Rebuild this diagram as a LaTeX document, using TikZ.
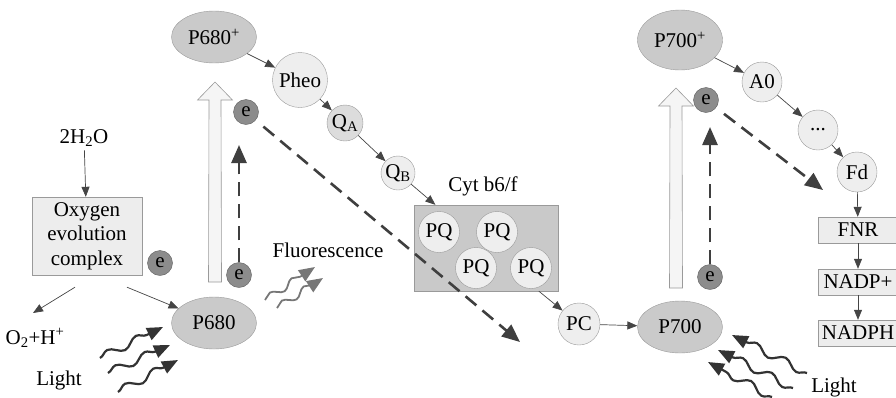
\documentclass[tikz,border=0pt]{standalone}
\usepackage{fontspec}
\setmainfont{Liberation Serif}
\usetikzlibrary{arrows.meta,shapes.geometric,decorations.pathmorphing}

\definecolor{bordgray}{HTML}{9A9A9A}
\definecolor{ellgray}{HTML}{CACACA}
\definecolor{ballgray}{HTML}{EEEEEE}
\definecolor{qgray}{HTML}{DCDCDC}
\definecolor{boxgray}{HTML}{EDEDED}
\definecolor{cytgray}{HTML}{C9C9C9}
\definecolor{egray}{HTML}{8C8C8C}
\definecolor{edark}{HTML}{5E5E5E}
\definecolor{arrgray}{HTML}{454545}
\definecolor{dashgray}{HTML}{3F3F3F}
\definecolor{wavegray}{HTML}{333333}
\definecolor{fluogray}{HTML}{777777}
\definecolor{arrowwhite}{HTML}{F5F5F5}

\tikzset{
  every node/.style={font=\fontsize{21}{24.5}\selectfont},
  ell/.style={ellipse, draw=bordgray, fill=ellgray, minimum width=85pt, minimum height=52pt, inner sep=0pt},
  ball/.style={circle, draw=bordgray, fill=ballgray, inner sep=0pt},
  elec/.style={circle, draw=edark, fill=egray, minimum size=25pt, inner sep=0pt},
  plainbox/.style={rectangle, draw=bordgray, fill=boxgray, inner sep=2pt},
  thinarr/.style={draw=arrgray, line width=0.7pt, -{Triangle[length=10pt,width=8pt]}},
  dasharr/.style={draw=dashgray, line width=2.6pt, dash pattern=on 14pt off 8pt, -{Triangle[length=18pt,width=15pt]}},
  wave/.style={draw=wavegray, line width=2.2pt, -{Triangle[length=16pt,width=13pt]},
    decorate, decoration={snake, amplitude=4pt, segment length=32pt, post length=14pt}},
  fluo/.style={wave, draw=fluogray, line width=1.8pt,
    decoration={snake, amplitude=3.5pt, segment length=26pt, post length=12pt}},
  bigarr/.pic={
    \filldraw[draw=bordgray, fill=arrowwhite, line width=0.6pt]
      (-6.5,0) -- (-6,-182) -- (-17.5,-182) -- (0,-200) -- (17.5,-182) -- (6,-182) -- (6.5,0) -- cycle;
  }
}

\begin{document}
\begin{tikzpicture}[x=1pt,y=-1pt]
  \useasboundingbox (0,0) rectangle (896,397);

  % photosystem II
  \node (h2o) at (84,138) {2H\textsubscript{2}O};
  \node[plainbox, minimum width=110pt, minimum height=78pt, align=center] (oec) at (87,236) {Oxygen\\evolution\\complex};
  \node (o2h) at (35,338) {O\textsubscript{2}+H\textsuperscript{+}};
  \node (lightL) at (59,380) {Light};
  \node[elec] (eOEC) at (160,263) {e};

  \pic at (215,282) {bigarr};
  \node[ell] (p680) at (214,323) {P680};
  \node[ell] (p680p) at (214,37) {P680\textsuperscript{+}};
  \node[elec] (eA) at (239,275) {e};
  \node[elec] (eB) at (246,112) {e};
  \coordinate (tipA) at (239,145);
  \coordinate (tipB) at (520,342);
  \node (fluor) at (328,250) {Fluorescence};

  % chain to cytochrome
  \node[ball, minimum size=55pt] (pheo) at (300,80) {Pheo};
  \node[ball, minimum size=36pt, fill=qgray] (qa) at (345,123) {Q\textsubscript{A}};
  \node[ball, minimum size=34pt] (qb) at (398,173) {Q\textsubscript{B}};
  \node (cytlabel) at (483,186) {Cyt b6/f};
  \node[plainbox, fill=cytgray, minimum width=144pt, minimum height=86pt] (cyt) at (486,248) {};
  \node[ball, minimum size=41pt] (pq1) at (439,232) {PQ};
  \node[ball, minimum size=41pt] (pq2) at (497,232) {PQ};
  \node[ball, minimum size=41pt] (pq3) at (476,268) {PQ};
  \node[ball, minimum size=41pt] (pq4) at (531,268) {PQ};
  \node[ball, minimum size=42pt] (pc) at (579,324) {PC};

  % photosystem I
  \pic at (676,288) {bigarr};
  \node[ell] (p700) at (680,327) {P700};
  \node[ell, minimum height=60pt] (p700p) at (680,40) {P700\textsuperscript{+}};
  \node[elec] (eC) at (706,100) {e};
  \node[elec] (eD) at (710,277) {e};
  \coordinate (tipC) at (710,127);
  \coordinate (tipD) at (823,190);
  \node[ball, minimum size=40pt] (a0) at (762,82) {A0};
  \node[ball, minimum size=40pt] (dots) at (818,130) {...};
  \node[ball, minimum size=40pt] (fd) at (857,172) {Fd};
  \node[plainbox, minimum width=80pt, minimum height=26pt] (fnr) at (858,230) {FNR};
  \node[plainbox, minimum width=80pt, minimum height=26pt] (nadp) at (858,282) {NADP+};
  \node[plainbox, minimum width=80pt, minimum height=26pt] (nadph) at (858,333) {NADPH};
  \node (lightR) at (834,387) {Light};

  % thin arrows
  \draw[thinarr] (h2o) -- (oec);
  \draw[thinarr] ([shift={(-12,12)}]oec.south) -- ([shift={(-2,-12)}]o2h.north);
  \draw[thinarr] ([shift={(40,12)}]oec.south) -- (p680);
  \draw[thinarr] (p680p) -- (pheo);
  \draw[thinarr] (pheo) -- (qa);
  \draw[thinarr] (qa) -- (qb);
  \draw[thinarr] (qb) -- (cyt);
  \draw[thinarr] (cyt) -- (pc);
  \draw[thinarr] (pc) -- (p700);
  \draw[thinarr] (p700p) -- (a0);
  \draw[thinarr] (a0) -- (dots);
  \draw[thinarr] (dots) -- (fd);
  \draw[thinarr] (fd) -- (fnr);
  \draw[thinarr] (fnr) -- (nadp);
  \draw[thinarr] (nadp) -- (nadph);

  % electron jumps
  \draw[dasharr] (eA) -- (tipA);
  \draw[dasharr, shorten <=10pt] (eB) -- (tipB);
  \draw[dasharr] (eD) -- (tipC);
  \draw[dasharr, shorten <=10pt] (eC) -- (tipD);

  % light and fluorescence
  \foreach \a/\b in {{(100,358)}/{(163,327)}, {(108,373)}/{(170,345)}, {(118,392)}/{(178,360)},
                     {(807,373)}/{(732,335)}, {(793,388)}/{(718,350)}, {(772,397)}/{(708,362)}}
    \draw[wave] \a -- \b;
  \draw[fluo] (265,300) -- (315,267);
  \draw[fluo] (277,308) -- (323,278);
\end{tikzpicture}
\end{document}
